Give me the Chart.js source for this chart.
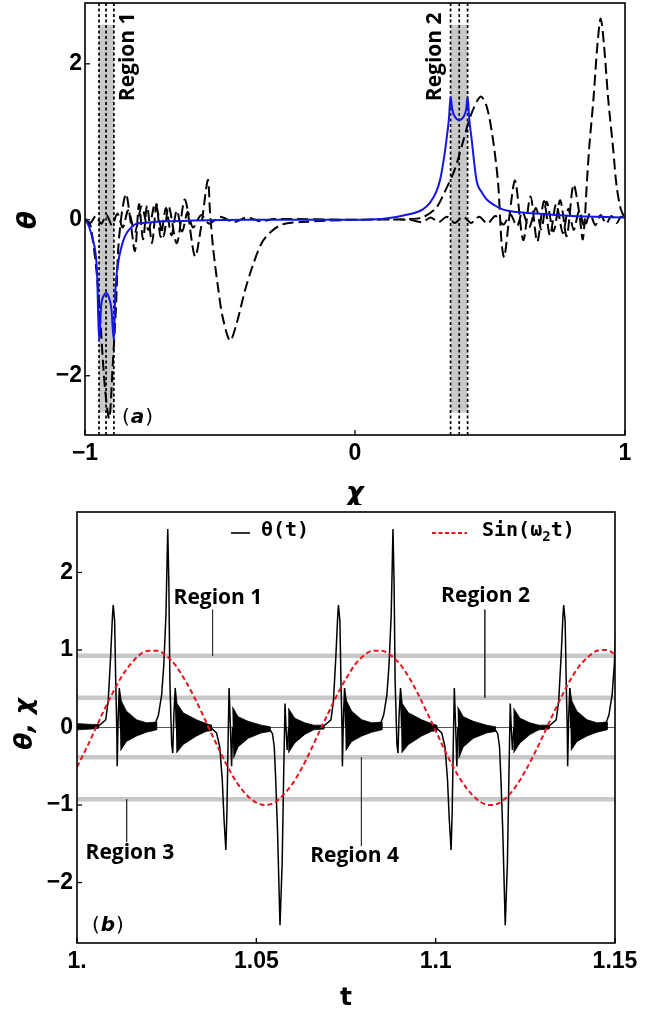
<!DOCTYPE html>
<html>
<head>
<meta charset="utf-8">
<script src="https://cdn.jsdelivr.net/npm/chart.js"></script>
<style>
  html, body { margin: 0; padding: 0; background: #fff; }
  #wrap { position: relative; width: 658px; height: 1013px; }
  #panelA { position: absolute; left: 0; top: 0; }
  #panelB { position: absolute; left: 0; top: 505px; }
</style>
</head>
<body>
<div id="wrap">
  <canvas id="panelA" width="658" height="505"></canvas>
  <canvas id="panelB" width="658" height="508"></canvas>
</div>
<script>
// ---------------- panel (a): theta vs chi ----------------
const chiTicks = [-1, 0, 1];
const chiTickLabels = ['\u22121', '0', '1'];
const thetaTicksA = [-2, 0, 2];
const thetaTickLabelsA = ['\u22122', '0', '2'];
const chiMin = -1, chiMax = 1, thetaMinA = -2.76, thetaMaxA = 2.78;

// dotted borders of the two regions and the shaded bands between them
const regionEdgesA = [-0.948, -0.922, -0.893, 0.354, 0.386, 0.417];
const bandFrom = [-0.948, 0.354];
const bandTo = [-0.893, 0.417];
const bandTop = 2.5, bandBottom = -2.47;
const regionLabelsA = ['Region 1', 'Region 2'];
const regionLabelChiA = [-0.841, 0.296];
const regionLabelThetaA = 2.09;

// blue solid curve
const blueChi = [-1.0, -0.99, -0.98, -0.97, -0.963, -0.955, -0.948, -0.94, -0.93, -0.922, -0.913, -0.902, -0.893,
  -0.888, -0.877, -0.865, -0.852, -0.835, -0.815, -0.78, -0.7, -0.6, -0.4, -0.2, 0.0, 0.1, 0.2, 0.25, 0.278, 0.3,
  0.315, 0.33, 0.339, 0.348, 0.354, 0.36, 0.37, 0.386, 0.402, 0.412, 0.417, 0.423, 0.432, 0.45, 0.47, 0.488, 0.52,
  0.549, 0.6, 0.673, 0.8, 1.0];
const blueTheta = [0.0, -0.05, -0.14, -0.27, -0.38, -0.7, -1.55, -1.1, -0.97, -0.94, -0.98, -1.15, -1.55,
  -0.95, -0.55, -0.35, -0.21, -0.12, -0.06, -0.04, -0.02, -0.01, 0.0, 0.0, 0.0, 0.01, 0.07, 0.13, 0.22, 0.35,
  0.51, 0.8, 1.03, 1.3, 1.58, 1.42, 1.32, 1.28, 1.32, 1.42, 1.58, 1.3, 1.03, 0.51, 0.35, 0.26, 0.18,
  0.13, 0.1, 0.08, 0.05, 0.03];

// black dashed trajectory (in the order it is traversed)
const dashChi = [-1.0, -0.99, -0.979, -0.957, -0.943, -0.925, -0.91, -0.898, -0.885, -0.877, -0.863, -0.848, -0.832, -0.815,
  -0.8, -0.785, -0.77, -0.752, -0.735, -0.72, -0.7, -0.68, -0.66, -0.64, -0.62, -0.6, -0.57, -0.54, -0.5, -0.45,
  -0.4, -0.35, -0.3, 0.0, 0.2, 0.25,
  0.3, 0.33, 0.37, 0.4, 0.43, 0.465, 0.488, 0.511, 0.53, 0.543, 0.553, 0.572, 0.593,
  0.623, 0.65, 0.675, 0.7, 0.722, 0.745, 0.77, 0.79, 0.81, 0.83, 0.85, 0.87, 0.89, 0.91, 0.93, 0.95, 0.97, 0.985, 1.0,
  0.995, 0.984, 0.969, 0.955, 0.938, 0.922, 0.91, 0.898, 0.883, 0.868, 0.858, 0.85, 0.843, 0.83, 0.809,
  0.784, 0.76, 0.735, 0.71, 0.69, 0.67, 0.645, 0.62, 0.6, 0.575, 0.55, 0.52, 0.49, 0.46, 0.43, 0.4, 0.37, 0.34,
  0.31, 0.28, 0.25, 0.2, 0.0, -0.2,
  -0.27, -0.31, -0.346, -0.38, -0.407, -0.44, -0.463, -0.49, -0.506, -0.525, -0.537, -0.545, -0.57, -0.593,
  -0.63, -0.66, -0.69, -0.71, -0.74, -0.765, -0.79, -0.815, -0.84, -0.86, -0.88, -0.9, -0.92, -0.94, -0.96, -0.98, -1.0];
const dashTheta = [0.02, -0.03, -0.08, -0.67, -1.32, -2.2, -2.55, -1.9, -1.1, -0.38, 0.1, 0.33, 0.0, -0.4,
  0.2, -0.25, 0.18, -0.3, 0.2, -0.22, 0.15, -0.2, 0.12, -0.15, 0.1, -0.1, 0.06, -0.05, 0.04, -0.03,
  0.03, -0.02, 0.01, 0.0, 0.01, 0.03,
  0.15, 0.34, 0.65, 1.0, 1.35, 1.58, 1.45, 1.03, 0.47, -0.3, -0.48, 0.05, 0.5,
  -0.26, 0.3, -0.28, 0.24, -0.2, 0.2, -0.17, 0.14, -0.13, 0.11, -0.09, 0.08, -0.07, 0.06, -0.05, 0.05, -0.04, 0.04, 0.01,
  0.05, 0.14, 0.43, 0.95, 1.54, 2.25, 2.58, 2.25, 1.54, 0.95, 0.43, -0.05, -0.25, 0.1, 0.45,
  -0.21, 0.25, -0.15, 0.23, -0.12, 0.15, -0.1, 0.1, -0.08, 0.07, -0.06, 0.05, -0.05, 0.04, -0.04, 0.04, -0.04, 0.04,
  -0.03, 0.03, -0.03, 0.0, 0.0, -0.03,
  -0.06, -0.15, -0.3, -0.6, -0.9, -1.35, -1.55, -1.25, -0.9, -0.38, 0.1, 0.51, -0.09, -0.47,
  0.26, -0.3, 0.17, -0.21, 0.21, -0.13, 0.17, -0.15, 0.12, -0.1, 0.08, -0.07, 0.06, -0.05, 0.05, -0.04, 0.02];

// ---------------- panel (b): theta(t) and Sin(w2 t) ----------------
const tTicks = [1.0, 1.05, 1.1, 1.15];
const tTickLabels = ['1.', '1.05', '1.1', '1.15'];
const thetaTicksB = [-2, -1, 0, 1, 2];
const thetaTickLabelsB = ['\u22122', '\u22121', '0', '1', '2'];
const tMin = 1.0, tMax = 1.15, thetaMinB = -2.78, thetaMaxB = 2.78;

const regionLevels = [0.924, 0.383, -0.383, -0.924];

const sinT = [1.0, 1.0025, 1.005, 1.0075, 1.01, 1.0125, 1.015, 1.0175, 1.02, 1.0225, 1.025, 1.0275, 1.03, 1.0325,
  1.035, 1.0375, 1.04, 1.0425, 1.045, 1.0475, 1.05, 1.0525, 1.055, 1.0575, 1.06, 1.0625, 1.065, 1.0675, 1.07, 1.0725,
  1.075, 1.0775, 1.08, 1.0825, 1.085, 1.0875, 1.09, 1.0925, 1.095, 1.0975, 1.1, 1.1025, 1.105, 1.1075, 1.11, 1.1125,
  1.115, 1.1175, 1.12, 1.1225, 1.125, 1.1275, 1.13, 1.1325, 1.135, 1.1375, 1.14, 1.1425, 1.145, 1.1475, 1.15];
const sinVal = [-0.51, -0.28, -0.03, 0.22, 0.45, 0.66, 0.82, 0.94, 0.99, 0.99, 0.92, 0.80, 0.62, 0.41,
  0.17, -0.08, -0.32, -0.55, -0.74, -0.88, -0.97, -1.00, -0.97, -0.87, -0.73, -0.54, -0.31, -0.06, 0.18, 0.42,
  0.63, 0.81, 0.93, 0.99, 0.99, 0.93, 0.82, 0.65, 0.44, 0.20, -0.04, -0.29, -0.52, -0.71, -0.86, -0.96,
  -1.00, -0.98, -0.89, -0.75, -0.56, -0.34, -0.10, 0.15, 0.39, 0.61, 0.79, 0.91, 0.99, 1.00, 0.95];

// centre line of theta(t): spikes and the slow drifts between them
const thetaT = [1.0, 1.006, 1.008, 1.0087, 1.0094, 1.0099, 1.0101, 1.0105, 1.0108, 1.0111, 1.0112, 1.0115, 1.0118, 1.0121,
  1.016, 1.02, 1.022, 1.0227, 1.0236, 1.0242, 1.0248, 1.0253, 1.0256, 1.0259, 1.0264, 1.0267, 1.027, 1.0274, 1.0277,
  1.033, 1.0375, 1.0389, 1.0398, 1.0405, 1.041, 1.0415, 1.0418, 1.0421, 1.0424, 1.0428, 1.0431, 1.0434,
  1.048, 1.0538, 1.0545, 1.055, 1.0554, 1.0559, 1.0566, 1.0572, 1.0576, 1.058, 1.0583, 1.0586, 1.059, 1.066,
  1.0688, 1.0708, 1.0715, 1.0722, 1.0727, 1.0729, 1.0733, 1.0736, 1.0739, 1.074, 1.0743, 1.0746, 1.0749,
  1.0788, 1.0828, 1.0848, 1.0855, 1.0864, 1.087, 1.0876, 1.0881, 1.0884, 1.0887, 1.0892, 1.0895, 1.0898, 1.0902, 1.0905,
  1.0958, 1.1003, 1.1017, 1.1026, 1.1033, 1.1038, 1.1043, 1.1046, 1.1049, 1.1052, 1.1056, 1.1059, 1.1062,
  1.1108, 1.1166, 1.1173, 1.1178, 1.1182, 1.1187, 1.1194, 1.12, 1.1204, 1.1208, 1.1211, 1.1214, 1.1218, 1.1288,
  1.1316, 1.1336, 1.1343, 1.135, 1.1355, 1.1357, 1.1361, 1.1364, 1.1367, 1.1368, 1.1371, 1.1374, 1.1377,
  1.1416, 1.1456, 1.1476, 1.1483, 1.1492, 1.1498, 1.1504, 1.1509];
const thetaV = [0.01, 0.02, 0.1, 0.34, 0.94, 1.45, 1.58, 1.37, 0.59, -0.05, -0.5, 0.16, 0.51, 0.0,
  0.0, 0.02, 0.07, 0.16, 0.42, 0.81, 1.45, 2.56, 1.88, 0.59, -0.22, -0.33, 0.16, 0.51, 0.0,
  0.0, -0.01, -0.07, -0.25, -0.67, -1.19, -1.58, -1.1, -0.25, 0.51, -0.03, -0.5, 0.0,
  -0.02, -0.03, -0.08, -0.25, -0.67, -1.32, -2.55, -1.75, -0.67, 0.31, -0.03, -0.29, 0.0, 0.0,
  0.02, 0.1, 0.34, 0.94, 1.45, 1.58, 1.37, 0.59, -0.05, -0.5, 0.16, 0.51, 0.0,
  0.0, 0.02, 0.07, 0.16, 0.42, 0.81, 1.45, 2.56, 1.88, 0.59, -0.22, -0.33, 0.16, 0.51, 0.0,
  0.0, -0.01, -0.07, -0.25, -0.67, -1.19, -1.58, -1.1, -0.25, 0.51, -0.03, -0.5, 0.0,
  -0.02, -0.03, -0.08, -0.25, -0.67, -1.32, -2.55, -1.75, -0.67, 0.31, -0.03, -0.29, 0.0, 0.0,
  0.02, 0.1, 0.34, 0.94, 1.45, 1.58, 1.37, 0.59, -0.05, -0.5, 0.16, 0.51, 0.0,
  0.0, 0.02, 0.07, 0.16, 0.42, 0.81, 1.45, 2.56];

// envelopes of the fast oscillation bursts: [t, theta] going along the top and back along the bottom
const fuzz0 = [[1.0, 0.05], [1.004, 0.04], [1.006, 0.04], [1.006, -0.01], [1.004, -0.02], [1.0, -0.03]];
const fuzzA1 = [[1.0118, 0.51], [1.0124, 0.34], [1.0138, 0.21], [1.0166, 0.10], [1.0194, 0.06], [1.0222, 0.07],
  [1.0222, -0.03], [1.0194, -0.06], [1.0166, -0.11], [1.0138, -0.18], [1.0121, -0.30]];
const fuzzB1 = [[1.0274, 0.51], [1.0279, 0.31], [1.0296, 0.19], [1.0333, 0.10], [1.036, 0.05], [1.0375, 0.03],
  [1.0375, -0.04], [1.036, -0.05], [1.0333, -0.11], [1.0296, -0.22], [1.0277, -0.33]];
const fuzzC1 = [[1.0433, 0.27], [1.0449, 0.14], [1.0477, 0.08], [1.0514, 0.03], [1.0538, 0.01],
  [1.0538, -0.05], [1.0514, -0.07], [1.0477, -0.14], [1.0449, -0.25], [1.0436, -0.40]];
const fuzzD1 = [[1.0589, 0.25], [1.0607, 0.12], [1.0635, 0.06], [1.066, 0.03], [1.0688, 0.03],
  [1.0688, -0.02], [1.066, -0.03], [1.0635, -0.09], [1.0607, -0.20], [1.0589, -0.33]];
const fuzzA2 = [[1.0746, 0.51], [1.0752, 0.34], [1.0766, 0.21], [1.0794, 0.10], [1.0822, 0.06], [1.085, 0.07],
  [1.085, -0.03], [1.0822, -0.06], [1.0794, -0.11], [1.0766, -0.18], [1.0749, -0.30]];
const fuzzB2 = [[1.0902, 0.51], [1.0907, 0.31], [1.0924, 0.19], [1.0961, 0.10], [1.0988, 0.05], [1.1003, 0.03],
  [1.1003, -0.04], [1.0988, -0.05], [1.0961, -0.11], [1.0924, -0.22], [1.0905, -0.33]];
const fuzzC2 = [[1.1061, 0.27], [1.1077, 0.14], [1.1105, 0.08], [1.1142, 0.03], [1.1166, 0.01],
  [1.1166, -0.05], [1.1142, -0.07], [1.1105, -0.14], [1.1077, -0.25], [1.1064, -0.40]];
const fuzzD2 = [[1.1217, 0.25], [1.1235, 0.12], [1.1263, 0.06], [1.1288, 0.03], [1.1316, 0.03],
  [1.1316, -0.02], [1.1288, -0.03], [1.1263, -0.09], [1.1235, -0.20], [1.1217, -0.33]];
const fuzzA3 = [[1.1374, 0.51], [1.138, 0.34], [1.1394, 0.21], [1.1422, 0.10], [1.145, 0.06], [1.1478, 0.07],
  [1.1478, -0.03], [1.145, -0.06], [1.1422, -0.11], [1.1394, -0.18], [1.1377, -0.30]];
const fuzzBursts = [fuzz0, fuzzA1, fuzzB1, fuzzC1, fuzzD1, fuzzA2, fuzzB2, fuzzC2, fuzzD2, fuzzA3];

// region callouts
const regionNamesB = ['Region 1', 'Region 2', 'Region 3', 'Region 4'];
const regionTextT = [1.0393, 1.1139, 1.01476, 1.0774];
const regionTextTheta = [1.67, 1.70, -1.62, -1.66];
const pointerT = [1.0378, 1.1137, 1.01384, 1.0793];
const pointerFrom = [1.52, 1.52, -0.924, -0.383];
const pointerTo = [0.924, 0.383, -1.475, -1.53];

const legendLabels = ['\u03b8(t)', 'Sin(\u03c9', '2', 't)'];

// ---------------- helpers ----------------
const TICK_FONT = { family: "'Liberation Sans', Arial, sans-serif", size: 23, weight: 'bold' };
const pts = (xs, ys) => xs.map((x, i) => ({ x, y: ys[i] }));

function axis(min, max, values, labels, pad, fitKey, fitVal) {
  return {
    type: 'linear', min, max,
    afterBuildTicks: s => { s.ticks = values.map(v => ({ value: v })); },
    afterFit: s => {
      s[fitKey] = fitVal;
      s.paddingTop = 0; s.paddingBottom = 0; s.paddingLeft = 0; s.paddingRight = 0;
    },
    ticks: { callback: (v, i) => labels[i], font: TICK_FONT, color: '#000', padding: pad, maxRotation: 0, autoSkip: false },
    grid: { display: false, drawTicks: false },
    border: { display: false }
  };
}

function frameAndTicks(chart) {
  const { ctx, chartArea: a, scales: { x, y } } = chart;
  ctx.save();
  ctx.strokeStyle = '#000';
  ctx.lineWidth = 1.6;
  ctx.strokeRect(a.left, a.top, a.right - a.left, a.bottom - a.top);
  ctx.lineWidth = 1.3;
  x.ticks.forEach(tk => {
    const px = x.getPixelForValue(tk.value);
    ctx.beginPath(); ctx.moveTo(px, a.bottom); ctx.lineTo(px, a.bottom - 5); ctx.stroke();
  });
  y.ticks.forEach(tk => {
    const py = y.getPixelForValue(tk.value);
    ctx.beginPath(); ctx.moveTo(a.left, py); ctx.lineTo(a.left + 5, py); ctx.stroke();
  });
  ctx.restore();
}

function rotatedText(ctx, txt, cx, cy, font) {
  ctx.save();
  ctx.translate(cx, cy);
  ctx.rotate(-Math.PI / 2);
  ctx.font = font;
  ctx.textAlign = 'center';
  ctx.textBaseline = 'middle';
  ctx.fillText(txt, 0, 0);
  ctx.restore();
}

function panelLetter(ctx, letter, x0, yMid) {
  ctx.save();
  ctx.textBaseline = 'middle';
  ctx.textAlign = 'left';
  ctx.font = "20px 'DejaVu Sans'";
  ctx.fillText('(', x0, yMid);
  let w = ctx.measureText('(').width;
  ctx.font = "italic bold 20px 'DejaVu Sans'";
  ctx.fillText(letter, x0 + w + 1, yMid);
  w += ctx.measureText(letter).width + 2;
  ctx.font = "20px 'DejaVu Sans'";
  ctx.fillText(')', x0 + w, yMid);
  ctx.restore();
}

const line = (data, color, width, extra) => Object.assign({
  data, borderColor: color, borderWidth: width, pointRadius: 0, fill: false, tension: 0
}, extra || {});

// ---------------- panel (a) chart ----------------
const panelAPlugin = {
  id: 'panelADecor',
  afterDraw(chart) {
    const { ctx, scales: { x, y } } = chart;
    frameAndTicks(chart);
    ctx.save();
    ctx.fillStyle = '#000';
    regionLabelsA.forEach((txt, i) => {
      rotatedText(ctx, txt, x.getPixelForValue(regionLabelChiA[i]), y.getPixelForValue(regionLabelThetaA),
        "bold 21px 'Open Sans'");
    });
    panelLetter(ctx, 'a', 122, 418);
    rotatedText(ctx, '\u03b8', 29, 220, "italic bold 26px 'DejaVu Sans'");
    ctx.font = "italic bold 27px 'DejaVu Sans'";
    ctx.textAlign = 'center';
    ctx.textBaseline = 'middle';
    ctx.fillText('\u03c7', 355, 494);
    ctx.restore();
  }
};

const datasetsA = [
  line(pts(blueChi, blueTheta), '#1515e8', 2, { cubicInterpolationMode: 'monotone' }),
  line(pts(dashChi, dashTheta), '#000', 2, { borderDash: [11, 5], tension: 0.3 })
];
regionEdgesA.forEach(e => {
  datasetsA.push(line([{ x: e, y: thetaMinA }, { x: e, y: thetaMaxA }], '#000', 1.7, { borderDash: [3, 2.5] }));
});
bandFrom.forEach((b, i) => {
  datasetsA.push(line([{ x: b, y: bandTop }, { x: bandTo[i], y: bandTop }], 'rgba(0,0,0,0)', 0,
    { backgroundColor: '#c8c8c8', fill: { value: bandBottom } }));
});

new Chart(document.getElementById('panelA'), {
  type: 'line',
  data: { datasets: datasetsA },
  options: {
    responsive: false,
    animation: false,
    layout: { padding: { left: 0, top: 3, right: 33, bottom: 0 } },
    plugins: { legend: { display: false }, tooltip: { enabled: false } },
    scales: {
      x: axis(chiMin, chiMax, chiTicks, chiTickLabels, 5, 'height', 70),
      y: axis(thetaMinA, thetaMaxA, thetaTicksA, thetaTickLabelsA, 3, 'width', 85)
    }
  },
  plugins: [panelAPlugin]
});

// ---------------- panel (b) chart ----------------
const panelBPlugin = {
  id: 'panelBDecor',
  afterDraw(chart) {
    const { ctx, scales: { x, y } } = chart;
    frameAndTicks(chart);
    ctx.save();
    ctx.fillStyle = '#000';
    ctx.textAlign = 'center';
    ctx.textBaseline = 'middle';
    ctx.font = "bold 21px 'Open Sans'";
    regionNamesB.forEach((txt, i) => {
      ctx.fillText(txt, x.getPixelForValue(regionTextT[i]), y.getPixelForValue(regionTextTheta[i]));
    });
    panelLetter(ctx, 'b', 92, 421);

    // legend
    const ly = 28;
    ctx.strokeStyle = '#000';
    ctx.lineWidth = 1.6;
    ctx.beginPath(); ctx.moveTo(231, ly); ctx.lineTo(250, ly); ctx.stroke();
    ctx.textAlign = 'left';
    ctx.font = "bold 20px 'DejaVu Sans Mono'";
    ctx.fillText(legendLabels[0], 261, ly - 2);
    ctx.strokeStyle = '#e8141c';
    ctx.lineWidth = 2;
    ctx.setLineDash([4, 2.5]);
    ctx.beginPath(); ctx.moveTo(432, ly); ctx.lineTo(467, ly); ctx.stroke();
    ctx.setLineDash([]);
    let lx = 482;
    ctx.fillText(legendLabels[1], lx, ly - 2);
    lx += ctx.measureText(legendLabels[1]).width;
    ctx.font = "bold 14px 'DejaVu Sans Mono'";
    ctx.fillText(legendLabels[2], lx, ly + 4);
    lx += ctx.measureText(legendLabels[2]).width;
    ctx.font = "bold 20px 'DejaVu Sans Mono'";
    ctx.fillText(legendLabels[3], lx, ly - 2);

    // axis titles
    rotatedText(ctx, '\u03b8, \u03c7', 25, 219, "italic bold 25px 'DejaVu Sans'");
    ctx.textAlign = 'center';
    ctx.font = "bold 25px 'DejaVu Sans'";
    ctx.fillText('t', 346, 493);
    ctx.restore();
  }
};

const datasetsB = [
  line(pts(sinT, sinVal), '#e8141c', 2, { borderDash: [5, 3], cubicInterpolationMode: 'monotone' }),
  line(pts(thetaT, thetaV), '#000', 1.5)
];
fuzzBursts.forEach(b => {
  datasetsB.push(line(b.map(p => ({ x: p[0], y: p[1] })), '#000', 0.8, { backgroundColor: '#000', fill: 'shape' }));
});
pointerT.forEach((t, i) => {
  datasetsB.push(line([{ x: t, y: pointerFrom[i] }, { x: t, y: pointerTo[i] }], '#333', 1));
});
regionLevels.forEach(v => {
  datasetsB.push(line([{ x: tMin, y: v }, { x: tMax, y: v }], '#c8c8c8', 4.5));
});
datasetsB.push(line([{ x: tMin, y: 0 }, { x: tMax, y: 0 }], '#555', 1));

new Chart(document.getElementById('panelB'), {
  type: 'line',
  data: { datasets: datasetsB },
  options: {
    responsive: false,
    animation: false,
    layout: { padding: { left: 0, top: 7, right: 43, bottom: 0 } },
    plugins: { legend: { display: false }, tooltip: { enabled: false } },
    scales: {
      x: axis(tMin, tMax, tTicks, tTickLabels, 5, 'height', 70),
      y: axis(thetaMinB, thetaMaxB, thetaTicksB, thetaTickLabelsB, 4, 'width', 77)
    }
  },
  plugins: [panelBPlugin]
});
</script>
</body>
</html>
